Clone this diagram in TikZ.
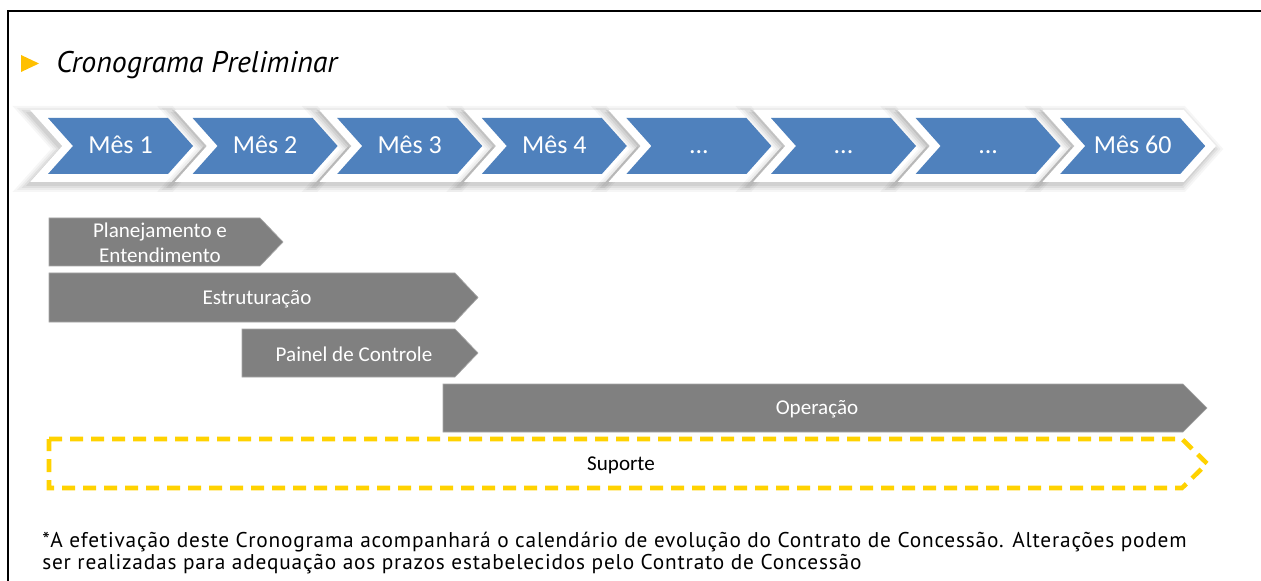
\documentclass[tikz,border=0pt]{standalone}
\usepackage{fontspec}
\setmainfont{Carlito}
\newfontfamily\eyfont[LetterSpace=3.8]{PT Sans}
\newfontfamily\eytitle{PT Sans}
\definecolor{chevblue}{HTML}{4F81BD}
\definecolor{bargray}{HTML}{808080}
\definecolor{dashyellow}{HTML}{FFD200}
\definecolor{tiryellow}{HTML}{FFC000}
\newcommand{\mydots}{...}
\begin{document}
\begin{tikzpicture}[x=0.75pt,y=-0.75pt,
  chevtext/.style={text=white,font=\fontsize{19.5}{23}\selectfont,inner sep=0pt,anchor=base},
  bartext/.style={text=white,font=\fontsize{15.8}{19}\selectfont,inner sep=0pt,align=center},
  barshape/.style={fill=bargray,draw=gray!70,line width=0.5pt},
  supshape/.style={draw=dashyellow,line width=3.4pt,dash pattern=on 9.75pt off 6pt,line join=miter},
  notetext/.style={font=\eyfont\fontsize{16}{19}\selectfont,inner sep=0pt,anchor=base west},
  titletext/.style={font=\eytitle\itshape\fontsize{22.4}{26}\selectfont,inner sep=0pt,anchor=base west}
]
\useasboundingbox (0,0) rectangle (1261,581);
\fill[white] (0,0) rectangle (1261,581);
% frame
\draw[line width=1.5pt] (8,581) -- (8,11) -- (1261,11);
% title
\fill[tiryellow] (21,55) -- (39,63.5) -- (21,72) -- cycle;
\node[titletext] (title) at (56,73) {Cronograma Preliminar};
% chevrons
\foreach \i/\lab in {0/Mês 1,1/Mês 2,2/Mês 3,3/Mês 4,4/\mydots,5/\mydots,6/\mydots,7/Mês 60}{
  \pgfmathsetmacro{\L}{48+144.6*\i}
  \begin{scope}[shift={(\L,0)}]
    \foreach \w/\op in {30/0.035,26/0.04,22/0.05,18/0.06}{
      \draw[black,opacity=\op,line width=\w*0.75pt,line join=miter,fill=black,fill opacity=\op]
        (-2,121) -- (118,121) -- (143,149) -- (118,177) -- (-2,177) -- (23,149) -- cycle;
    }
    \draw[white,fill=white,line width=12pt,line join=miter]
      (0,118) -- (120,118) -- (145,146) -- (120,174) -- (0,174) -- (25,146) -- cycle;
    \fill[chevblue] (0,118) -- (120,118) -- (145,146) -- (120,174) -- (0,174) -- (25,146) -- cycle;
  \end{scope}
  \node[chevtext] (m\i) at (\L+72.5,154) {\lab};
}
% bars
\draw[barshape] (49,218) -- (260,218) -- (283,242) -- (260,266) -- (49,266) -- cycle;
\node[bartext] (plan) at (160,243) {Planejamento e\\Entendimento};
\draw[barshape] (49,273) -- (455,273) -- (478,297.5) -- (455,322) -- (49,322) -- cycle;
\node[bartext] (estr) at (257,299) {Estruturação};
\draw[barshape] (242,329) -- (455,329) -- (478,353) -- (455,377) -- (242,377) -- cycle;
\node[bartext] (pain) at (354,354.5) {Painel de Controle};
\draw[barshape] (443,384) -- (1183,384) -- (1207,408) -- (1183,432) -- (443,432) -- cycle;
\node[bartext] (oper) at (817,409.5) {Operação};
\draw[supshape] (49,439) -- (1182,439) -- (1207,463.5) -- (1182,488) -- (49,488) -- cycle;
\node[bartext,text=black] (sup) at (621,465.5) {Suporte};
% footnote
\node[notetext] (n1) at (42,547) {*A efetivação deste Cronograma acompanhará o calendário de evolução do Contrato de Concessão. Alterações podem};
\node[notetext] (n2) at (42,569) {ser realizadas para adequação aos prazos estabelecidos pelo Contrato de Concessão};
\end{tikzpicture}
\end{document}
